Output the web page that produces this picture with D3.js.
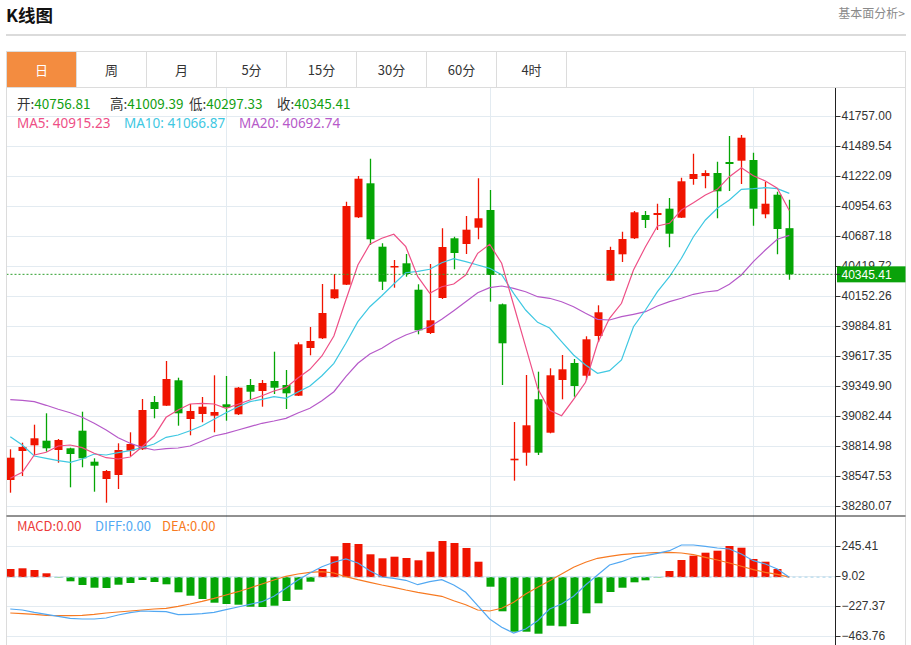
<!DOCTYPE html>
<html>
<head>
<meta charset="utf-8">
<script src="https://cdn.jsdelivr.net/npm/d3@7"></script>
<style>
  body { margin: 0; background: #fff; }
  svg { display: block; font-family: "Noto Sans CJK SC", "Noto Sans", sans-serif; }
</style>
</head>
<body>
<div id="kline"></div>
<script>
// ---- data ----
const tabs = ["日", "周", "月", "5分", "15分", "30分", "60分", "4时"];

const openVals = [38511.9, 38770.4, 38821.2, 38862.3, 38779.3, 38794.5, 38951.4, 38675.1, 38520.8, 38556.5,
  38773.1, 38785.6, 39207.3, 39174.3, 39400.7, 39055.7, 39100.3, 39085.1, 39186.7, 39097.6,
  39358.8, 39305.3, 39394.5, 39358.8, 39263.4, 39688.7, 39775.2, 40131.8, 40253.0, 40853.9,
  41157.0, 40591.8, 40408.1, 40443.8, 40208.4, 39822.4, 40134.4, 40666.7, 40615.9, 40761.2,
  40919.0, 40078.3, 38687.5, 38755.3, 39231.4, 38933.6, 39403.4, 39555.0, 39441.7, 39795.7,
  40288.7, 40524.0, 40666.7, 40874.4, 40874.4, 40930.6, 40850.3, 41195.4, 41222.1, 41248.8,
  41346.9, 41358.5, 41364.7, 40880.6, 41055.4, 40756.81];
const highVals = [38785.6, 38844.4, 39004.9, 39106.5, 38877.4, 38800.0, 39120.8, 38705.3, 38601.0, 38839.1,
  38937.1, 39234.0, 39260.8, 39572.8, 39423.9, 39189.4, 39251.8, 39445.3, 39439.1, 39341.0,
  39412.3, 39403.4, 39655.7, 39492.6, 39739.5, 39875.9, 40259.3, 40348.4, 40993.0, 41222.1,
  41376.3, 40622.1, 40473.2, 40526.7, 40256.6, 40437.6, 40755.8, 40680.9, 40865.5, 41201.6,
  41097.3, 40085.0, 39029.0, 39448.0, 39477.4, 39507.7, 39626.3, 39590.6, 39793.0, 40069.4,
  40591.8, 40725.5, 40910.1, 40910.1, 40975.1, 41026.0, 41206.9, 41420.9, 41272.9, 41349.6,
  41578.7, 41587.6, 41429.8, 41171.3, 41082.1, 41009.39];
const lowVals = [38398.7, 38547.5, 38734.8, 38764.2, 38666.2, 38446.8, 38625.1, 38407.6, 38309.5, 38431.7,
  38725.8, 38779.3, 39061.9, 39172.0, 38996.0, 38910.4, 39026.3, 38937.1, 39040.5, 39091.4,
  39231.4, 39165.4, 39278.6, 39144.9, 39260.8, 39623.6, 39769.0, 40125.5, 40250.3, 40847.7,
  40606.9, 40205.8, 40226.3, 40324.3, 39810.8, 39813.7, 40125.5, 40390.3, 40526.7, 40657.8,
  40101.5, 39358.8, 38505.7, 38639.4, 38734.8, 38928.0, 39231.4, 39254.5, 39403.4, 39742.2,
  40286.0, 40455.4, 40660.4, 40758.5, 40740.7, 40586.4, 40847.7, 41144.5, 41112.4, 40845.0,
  41088.4, 41150.8, 40779.0, 40845.0, 40524.0, 40297.33];
const closeVals = [38710.7, 38806.1, 38883.7, 38794.5, 38868.5, 38743.7, 38705.3, 38639.4, 38592.1, 38779.3,
  38832.8, 39135.9, 39144.9, 39412.3, 39106.5, 39127.0, 39165.4, 39118.1, 39160.0, 39334.8,
  39299.1, 39376.7, 39334.8, 39284.8, 39721.7, 39751.1, 40000.7, 40212.0, 40954.6, 41198.0,
  40657.8, 40279.8, 40419.7, 40348.4, 39846.5, 39935.6, 40589.1, 40535.6, 40743.4, 40845.0,
  40339.5, 39730.6, 38701.8, 38999.5, 38755.3, 39445.3, 39498.8, 39349.9, 39766.3, 40007.0,
  40562.4, 40660.4, 40898.5, 40829.8, 40892.2, 40707.7, 41174.8, 41239.9, 41248.8, 41085.7,
  41329.1, 41563.5, 40930.6, 40975.1, 40749.6, 40345.41];

const ma5 = [38527.0, 38580.5, 38734.8, 38758.8, 38815.0, 38823.9, 38799.9, 38749.9, 38710.7, 38699.1,
  38716.9, 38808.8, 38904.2, 39070.8, 39135.9, 39189.4, 39195.6, 39189.4, 39151.1, 39186.7,
  39225.1, 39263.4, 39305.3, 39334.8, 39421.2, 39498.8, 39617.4, 39795.7, 40116.6, 40428.6,
  40613.2, 40666.7, 40702.3, 40591.8, 40324.3, 40176.3, 40235.2, 40259.3, 40339.5, 40533.0,
  40613.2, 40443.8, 40072.0, 39700.3, 39329.4, 39133.2, 39085.1, 39231.3, 39382.9, 39730.6,
  39953.5, 40087.2, 40384.1, 40591.8, 40776.3, 40800.4, 40919.0, 40984.1, 41052.7, 41103.5,
  41215.9, 41296.1, 41224.8, 41177.5, 41112.4, 40915.23];
const ma10 = [38897.9, 38823.9, 38725.8, 38705.3, 38683.9, 38669.7, 38699.1, 38743.7, 38734.8, 38755.3,
  38773.1, 38799.9, 38832.8, 38892.6, 38913.1, 38951.4, 38996.0, 39053.0, 39111.9, 39165.4,
  39210.0, 39231.3, 39254.5, 39240.3, 39296.4, 39349.9, 39441.7, 39552.3, 39730.6, 39923.2,
  40056.9, 40155.0, 40259.3, 40360.0, 40372.5, 40390.3, 40449.2, 40484.8, 40458.1, 40428.6,
  40399.2, 40342.2, 40176.3, 40027.5, 39917.8, 39867.0, 39744.8, 39626.3, 39537.1, 39463.1,
  39486.3, 39581.7, 39878.6, 40027.5, 40190.6, 40324.3, 40488.4, 40680.9, 40829.8, 40934.1,
  41008.1, 41103.5, 41108.9, 41117.8, 41108.9, 41066.87];
const ma20 = [39227.8, 39222.4, 39210.0, 39177.8, 39142.2, 39111.9, 39070.8, 39017.4, 38957.6, 38889.0,
  38839.1, 38803.4, 38779.3, 38790.9, 38797.2, 38815.0, 38859.6, 38904.2, 38928.2, 38957.6,
  38987.1, 39017.4, 39037.9, 39061.9, 39109.2, 39151.1, 39218.9, 39299.1, 39432.8, 39552.3,
  39635.2, 39686.0, 39753.8, 39804.6, 39842.9, 39878.6, 39944.5, 40021.2, 40101.5, 40181.7,
  40226.3, 40241.4, 40220.9, 40190.6, 40146.0, 40131.8, 40101.5, 40056.9, 39998.0, 39944.5,
  39938.3, 39967.7, 39989.1, 40012.3, 40063.1, 40101.5, 40131.8, 40167.4, 40187.9, 40199.5,
  40256.6, 40339.5, 40458.1, 40562.4, 40657.8, 40692.74];

const macdVals = [64.2, 69.7, 56.3, 30.3, -3, -32.7, -61.9, -83.2, -85.5, -59.5,
  -46.1, -22.5, -38.3, -56.4, -119.4, -146.2, -172.2, -201.4, -211.6, -217.1,
  -232.9, -235.4, -225.0, -188.0, -98.9, -35.9, 64.2, 164.3, 269.1, 261.2,
  180.0, 148.5, 161.1, 150.9, 132.7, 200.5, 284.8, 269.1, 229.7, 121.7,
  -75.3, -269.1, -429.9, -429.9, -445.6, -382.6, -387.3, -369.2, -284.9, -206.1,
  -117.1, -83.2, -40.6, -24.9, -3, 48.4, 135.1, 169.0, 192.6, 208.4,
  245.4, 232.0, 143.0, 121.7, 64.2, 0];
const diffVals = [-251.0, -258.9, -277.0, -292.8, -308.5, -324.3, -329.8, -329.8, -322.0, -298.3,
  -280.2, -266.9, -269.1, -272.3, -295.9, -292.8, -288.0, -277.0, -256.5, -235.3,
  -214.0, -193.5, -150.9, -87.9, -22.5, 32.7, 82.3, 117.0, 143.0, 111.5,
  50.8, 1.1, -9.1, -24.9, -59.5, -35.9, -20.1, -61.9, -119.4, -225.0,
  -329.8, -395.2, -440.1, -408.6, -343.2, -251.0, -211.6, -150.9, -61.9, 16.9,
  95.7, 121.7, 156.4, 169.0, 187.9, 208.4, 253.3, 253.3, 243.1, 229.7,
  221.8, 182.4, 129.6, 103.6, 64.2, 0];
const deaVals = [-282.5, -288.1, -292.8, -300.7, -303.8, -303.8, -300.7, -292.8, -282.5, -274.7,
  -266.8, -258.9, -251.0, -245.5, -229.8, -211.6, -190.4, -166.7, -140.7, -114.7,
  -85.5, -54.0, -22.5, 6.7, 24.8, 38.2, 42.9, 32.7, 3.5, -20.1,
  -40.6, -61.9, -80.0, -101.3, -119.4, -135.2, -151.0, -185.6, -217.1, -258.9,
  -266.8, -245.5, -198.2, -132.8, -80.0, -28.0, 24.8, 77.6, 117.0, 148.5,
  164.3, 176.9, 184.7, 190.3, 192.6, 195.8, 190.3, 176.9, 156.4, 135.1,
  111.5, 85.5, 58.7, 38.2, 22.4, 0];

const priceTicks = [41757.00, 41489.54, 41222.09, 40954.63, 40687.18, 40419.72, 40152.26,
  39884.81, 39617.35, 39349.90, 39082.44, 38814.98, 38547.53, 38280.07];
const macdTicks = [245.41, 9.02, -227.37, -463.76];
const gridIdx = [18, 40, 62];   // candles that carry a vertical grid line

// ---- layout ----
const W = 911, H = 645;
const left = 6.5, axisX = 835.5, right = 905.5;
const priceTop = 88, priceBottom = 516, macdBottom = 645;
const red = "#f01400", green = "#05a505", gridColor = "#e3ebf1";
const fmt = d3.format(".2f");
const last = closeVals.length - 1;
const idx = d3.range(closeVals.length);

const svg = d3.select("#kline").append("svg")
  .attr("width", W)
  .attr("height", H);

// title bar
svg.append("text").attr("x", 6).attr("y", 22)
  .style("font-size", "17.5px").style("font-weight", "bold").attr("fill", "#111")
  .text("K线图");
svg.append("text").attr("x", 905).attr("y", 18).attr("text-anchor", "end")
  .style("font-size", "12px").attr("fill", "#8a8a8a")
  .text("基本面分析>");
svg.append("line").attr("x1", 6).attr("x2", 906).attr("y1", 35).attr("y2", 35)
  .attr("stroke", "#cfcfcf").attr("stroke-width", 1.5);

// tabs
const tabW = 70;
svg.append("rect").attr("x", left).attr("y", 51.5).attr("width", right - left).attr("height", 36)
  .attr("fill", "none").attr("stroke", "#dcdcdc");
const tabG = svg.append("g").selectAll("g").data(tabs).join("g")
  .attr("transform", (d, i) => `translate(${left + i * tabW},51.5)`);
tabG.append("rect").attr("width", tabW).attr("height", 36)
  .attr("fill", (d, i) => i === 0 ? "#f38c40" : "#fff")
  .attr("stroke", "#dcdcdc");
tabG.append("text").attr("x", tabW / 2).attr("y", 23).attr("text-anchor", "middle")
  .style("font-size", "13px").attr("fill", (d, i) => i === 0 ? "#fff" : "#333")
  .text(d => d);

// scales
const x = d3.scaleLinear().domain([0, last]).range([10.3, 789.3]);
const y = d3.scaleLinear().domain([38280.07, 41757.00]).range([506, 116]);
const ym = d3.scaleLinear().domain([-463.76, 245.41]).range([636, 546]);

// clip
svg.append("clipPath").attr("id", "plot")
  .append("rect").attr("x", left + 0.5).attr("y", priceTop).attr("width", axisX - left - 0.5).attr("height", H - priceTop);

// grid
const grid = svg.append("g");
grid.selectAll(".hp").data(priceTicks).join("line")
  .attr("x1", left).attr("x2", axisX).attr("y1", d => Math.round(y(d)) + 0.5).attr("y2", d => Math.round(y(d)) + 0.5)
  .attr("stroke", gridColor);
grid.selectAll(".hm").data(macdTicks).join("line")
  .attr("x1", left).attr("x2", axisX).attr("y1", d => Math.round(ym(d)) + 0.5).attr("y2", d => Math.round(ym(d)) + 0.5)
  .attr("stroke", gridColor);
grid.selectAll(".v").data(gridIdx).join("line")
  .attr("x1", d => Math.round(x(d)) + 0.5).attr("x2", d => Math.round(x(d)) + 0.5)
  .attr("y1", priceTop).attr("y2", macdBottom)
  .attr("stroke", gridColor);

// frame lines
svg.append("line").attr("x1", left).attr("x2", left).attr("y1", priceTop).attr("y2", H).attr("stroke", "#dcdcdc");
svg.append("line").attr("x1", right).attr("x2", right).attr("y1", priceTop).attr("y2", H).attr("stroke", "#dcdcdc");

const plot = svg.append("g").attr("clip-path", "url(#plot)");

// candles
const candle = plot.append("g").selectAll("g").data(idx).join("g");
candle.append("line")
  .attr("x1", i => Math.round(x(i)) + 0.5).attr("x2", i => Math.round(x(i)) + 0.5)
  .attr("y1", i => y(highVals[i])).attr("y2", i => y(lowVals[i]))
  .attr("stroke", i => closeVals[i] >= openVals[i] ? red : green).attr("stroke-width", 1.3);
candle.append("rect")
  .attr("x", i => Math.round(x(i)) + 0.5 - 4).attr("width", 8)
  .attr("y", i => y(Math.max(openVals[i], closeVals[i])))
  .attr("height", i => Math.max(1.5, Math.abs(y(openVals[i]) - y(closeVals[i]))))
  .attr("fill", i => closeVals[i] >= openVals[i] ? red : green);

// moving averages
const priceLine = arr => d3.line().x((d, i) => x(i)).y(d => y(d))(arr);
[[ma20, "#b65ac9"], [ma10, "#3fc8e2"], [ma5, "#ee4f86"]].forEach(([arr, c]) => {
  plot.append("path").attr("d", priceLine(arr)).attr("fill", "none").attr("stroke", c).attr("stroke-width", 1.2);
});

// current price marker
plot.append("line").attr("x1", left).attr("x2", axisX)
  .attr("y1", y(closeVals[last])).attr("y2", y(closeVals[last]))
  .attr("stroke", "#2ea02e").attr("stroke-dasharray", "2,2");

// MACD histogram and lines
plot.append("g").selectAll("rect").data(idx).join("rect")
  .attr("x", i => Math.round(x(i)) + 0.5 - 4).attr("width", 8)
  .attr("y", i => Math.min(ym(0), ym(macdVals[i])))
  .attr("height", i => Math.abs(ym(macdVals[i]) - ym(0)))
  .attr("fill", i => macdVals[i] >= 0 ? red : green);
plot.append("line").attr("x1", left).attr("x2", axisX).attr("y1", ym(0)).attr("y2", ym(0))
  .attr("stroke", "#a8d4ea").attr("stroke-dasharray", "3,3");
const macdLine = arr => d3.line().x((d, i) => x(i)).y(d => ym(d))(arr);
plot.append("path").attr("d", macdLine(deaVals)).attr("fill", "none").attr("stroke", "#f77a22").attr("stroke-width", 1.2);
plot.append("path").attr("d", macdLine(diffVals)).attr("fill", "none").attr("stroke", "#52a8f2").attr("stroke-width", 1.2);

// axes
const styleAxis = g => {
  g.select(".domain").remove();
  g.selectAll(".tick line").attr("stroke", "#333");
  g.selectAll(".tick text").attr("fill", "#333")
    .style("font-family", "'Liberation Sans', Arial, sans-serif").style("font-size", "12px");
};
svg.append("g").attr("transform", `translate(${axisX},0)`)
  .call(d3.axisRight(y).tickValues(priceTicks).tickFormat(fmt).tickSize(5).tickPadding(1))
  .call(styleAxis);
svg.append("g").attr("transform", `translate(${axisX},0)`)
  .call(d3.axisRight(ym).tickValues(macdTicks).tickFormat(fmt).tickSize(5).tickPadding(1))
  .call(styleAxis);

svg.append("line").attr("x1", axisX).attr("x2", axisX).attr("y1", priceTop).attr("y2", H).attr("stroke", "#222");
svg.append("line").attr("x1", left).attr("x2", right).attr("y1", priceBottom).attr("y2", priceBottom).attr("stroke", "#222");

// last price tag (drawn over the 40419.72 label, as in the original)
const tagY = y(closeVals[last]);
svg.append("rect").attr("x", axisX + 1.5).attr("y", tagY - 8).attr("width", right - axisX - 1.5).attr("height", 16)
  .attr("fill", "#0aa20a");
svg.append("line").attr("x1", axisX).attr("x2", axisX + 5).attr("y1", tagY).attr("y2", tagY).attr("stroke", "#333");
svg.append("text").attr("x", axisX + 6).attr("y", tagY + 4.3)
  .style("font-family", "'Liberation Sans', Arial, sans-serif").style("font-size", "12px").attr("fill", "#fff")
  .text(fmt(closeVals[last]));

// legends
const legend = svg.append("g").style("font-size", "13.5px");
const ohlc = [["开", openVals[last], 17], ["高", highVals[last], 110], ["低", lowVals[last], 189], ["收", closeVals[last], 277]];
ohlc.forEach(([k, v, px]) => {
  const t = legend.append("text").attr("x", px).attr("y", 108.5);
  t.append("tspan").attr("fill", "#333").text(k + ":");
  t.append("tspan").attr("fill", "#12a012").text(fmt(v));
});
const maLegend = [["MA5", ma5, "#ee4f86", 17], ["MA10", ma10, "#3fc8e2", 124], ["MA20", ma20, "#b65ac9", 239]];
maLegend.forEach(([k, arr, c, px]) => {
  legend.append("text").attr("x", px).attr("y", 127.5).attr("fill", c)
    .style("font-family", "'Noto Sans', sans-serif").style("font-size", "13.5px")
    .text(`${k}: ${fmt(arr[last])}`);
});
const macdLegend = [["MACD", macdVals, "#ec3a3a", 17], ["DIFF", diffVals, "#52a8f2", 95], ["DEA", deaVals, "#f77a22", 162]];
macdLegend.forEach(([k, arr, c, px]) => {
  legend.append("text").attr("x", px).attr("y", 531).attr("fill", c).style("font-size", "13px")
    .text(`${k}:${fmt(arr[last])}`);
});
</script>
</body>
</html>
